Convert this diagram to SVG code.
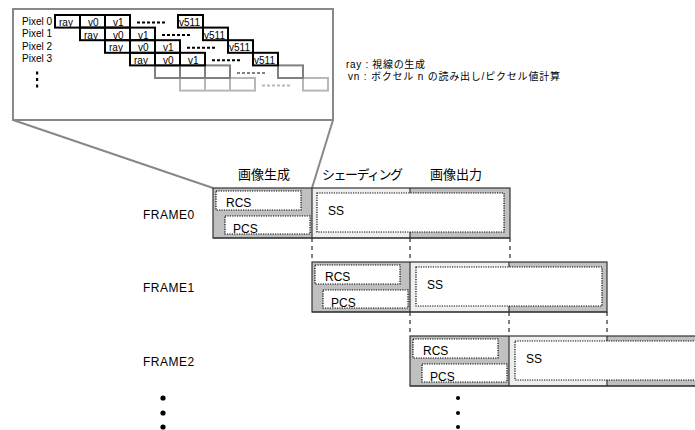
<svg xmlns="http://www.w3.org/2000/svg" width="695" height="430" viewBox="0 0 695 430">
<style>
text{font-family:"Liberation Sans","Noto Sans CJK JP",sans-serif;fill:#000}
.lbl{font-size:12px}
.hd{font-size:13px}
.cell{font-size:10px}
.pix{font-size:10px}
.leg{font-size:10px}
.fr{font-size:12px;letter-spacing:0.5px}
.g{fill:#c0c0c0}
.l{fill:#eeeeee}
.ob{fill:none;stroke:#333;stroke-width:1.2}
.bd{stroke:#333;stroke-width:1.2}
.dot{fill:#fff;stroke:#000;stroke-width:1.2;stroke-dasharray:1.2 1.2}
.conn{stroke:#000;stroke-width:1;stroke-dasharray:4 4}
.pan{fill:#fff;stroke:#888;stroke-width:2}
.row0{fill:none;stroke:#000;stroke-width:2}
.rowg{fill:none;stroke:#808080;stroke-width:2}
.rowl{fill:none;stroke:#b8b8b8;stroke-width:2}
.dsh{stroke-width:2;stroke-dasharray:3 2}
</style>

<g id="zoom-panel">
  <line x1="13" y1="120" x2="213" y2="188" stroke="#888" stroke-width="2"/>
  <line x1="333" y1="120" x2="312" y2="188" stroke="#888" stroke-width="2"/>
  <rect class="pan" x="13" y="9" width="320" height="111"/>
  <g class="rowl">
    <rect x="180" y="78" width="75" height="12.6"/>
    <line x1="205" y1="78" x2="205" y2="90.6"/><line x1="230" y1="78" x2="230" y2="90.6"/>
    <rect x="303" y="78" width="25" height="12.6"/>
    <line class="dsh" x1="262" y1="85.5" x2="290" y2="85.5"/>
  </g>
  <g class="rowg">
    <rect x="155" y="65.4" width="75" height="12.6"/>
    <line x1="180" y1="65.4" x2="180" y2="78"/><line x1="205" y1="65.4" x2="205" y2="78"/>
    <rect x="278" y="65.4" width="25" height="12.6"/>
    <line class="dsh" x1="237" y1="72.9" x2="265" y2="72.9"/>
  </g>
  <g class="row0">
    <rect x="55" y="15" width="75" height="12.6"/>
    <line x1="80" y1="15" x2="80" y2="27.6"/><line x1="105" y1="15" x2="105" y2="27.6"/>
    <rect x="178" y="15" width="25" height="12.6"/>
    <line class="dsh" x1="137" y1="22.5" x2="165" y2="22.5"/>

    <rect x="80" y="27.6" width="75" height="12.6"/>
    <line x1="105" y1="27.6" x2="105" y2="40.2"/><line x1="130" y1="27.6" x2="130" y2="40.2"/>
    <rect x="203" y="27.6" width="25" height="12.6"/>
    <line class="dsh" x1="162" y1="35.1" x2="190" y2="35.1"/>

    <rect x="105" y="40.2" width="75" height="12.6"/>
    <line x1="130" y1="40.2" x2="130" y2="52.8"/><line x1="155" y1="40.2" x2="155" y2="52.8"/>
    <rect x="228" y="40.2" width="25" height="12.6"/>
    <line class="dsh" x1="187" y1="47.7" x2="215" y2="47.7"/>

    <rect x="130" y="52.8" width="75" height="12.6"/>
    <line x1="155" y1="52.8" x2="155" y2="65.4"/><line x1="180" y1="52.8" x2="180" y2="65.4"/>
    <rect x="253" y="52.8" width="25" height="12.6"/>
    <line class="dsh" x1="212" y1="60.3" x2="240" y2="60.3"/>
  </g>
  <g class="cell">
    <text x="59" y="26">ray</text><text x="88" y="26">v0</text><text x="113" y="26">v1</text><text x="179" y="26">v511</text>
    <text x="84" y="38.6">ray</text><text x="113" y="38.6">v0</text><text x="138" y="38.6">v1</text><text x="204" y="38.6">v511</text>
    <text x="109" y="51.2">ray</text><text x="138" y="51.2">v0</text><text x="163" y="51.2">v1</text><text x="229" y="51.2">v511</text>
    <text x="134" y="63.8">ray</text><text x="163" y="63.8">v0</text><text x="188" y="63.8">v1</text><text x="254" y="63.8">v511</text>
  </g>
  <g class="pix">
    <text x="22" y="24.5">Pixel 0</text>
    <text x="22" y="37">Pixel 1</text>
    <text x="22" y="49.5">Pixel 2</text>
    <text x="22" y="62">Pixel 3</text>
  </g>
  <rect x="36" y="71.5" width="2.2" height="3" fill="#000"/>
  <rect x="36" y="78" width="2.2" height="3" fill="#000"/>
  <rect x="36" y="84.5" width="2.2" height="3" fill="#000"/>
</g>

<g id="legend" class="leg">
  <text x="346" y="67.5" textLength="79">ray : 視線の生成</text>
  <text x="348" y="79.5" textLength="212">vn : ボクセル n の読み出し/ピクセル値計算</text>
</g>

<g id="headers" class="hd">
  <text x="238" y="179">画像生成</text>
  <text x="322" y="179" textLength="81">シェーディング</text>
  <text x="430" y="179">画像出力</text>
</g>

<g id="frame-labels" class="fr">
  <text x="143" y="219">FRAME0</text>
  <text x="143" y="292">FRAME1</text>
  <text x="143" y="366">FRAME2</text>
</g>

<g id="connectors">
  <line class="conn" x1="312" y1="238" x2="312" y2="262"/>
  <line class="conn" x1="410" y1="238" x2="410" y2="262"/>
  <line class="conn" x1="510" y1="238" x2="510" y2="262"/>
  <line class="conn" x1="410" y1="312" x2="410" y2="336"/>
  <line class="conn" x1="509" y1="312" x2="509" y2="336"/>
  <line class="conn" x1="607" y1="312" x2="607" y2="336"/>
</g>

<g id="frame0">
  <rect class="g" x="213" y="188" width="99" height="50"/>
  <rect class="l" x="312" y="188" width="98" height="50"/>
  <rect class="g" x="410" y="188" width="100" height="50"/>
  <line class="bd" x1="312" y1="188" x2="312" y2="238"/>
  <line class="bd" x1="410" y1="188" x2="410" y2="238"/>
  <rect class="ob" x="213" y="188" width="297" height="50"/>
  <line class="bd" x1="213" y1="238" x2="510" y2="238" stroke-width="1.8"/>
  <rect class="dot" x="216" y="191" width="85" height="19"/>
  <rect class="dot" x="225" y="216" width="85" height="18"/>
  <rect class="dot" x="317" y="193" width="187" height="39"/>
  <text class="lbl" x="226" y="206.5">RCS</text>
  <text class="lbl" x="233" y="232.5">PCS</text>
  <text class="lbl" x="328" y="214.5">SS</text>
</g>

<g id="frame1">
  <rect class="g" x="312" y="262" width="98" height="50"/>
  <rect class="l" x="410" y="262" width="99" height="50"/>
  <rect class="g" x="509" y="262" width="98" height="50"/>
  <line class="bd" x1="410" y1="262" x2="410" y2="312"/>
  <line class="bd" x1="509" y1="262" x2="509" y2="312"/>
  <rect class="ob" x="312" y="262" width="295" height="50"/>
  <line class="bd" x1="312" y1="312" x2="607" y2="312" stroke-width="1.8"/>
  <rect class="dot" x="315" y="265" width="85" height="19"/>
  <rect class="dot" x="323" y="290" width="85" height="18"/>
  <rect class="dot" x="416" y="267" width="186" height="39"/>
  <text class="lbl" x="325" y="280.5">RCS</text>
  <text class="lbl" x="331" y="306.5">PCS</text>
  <text class="lbl" x="427" y="288.5">SS</text>
</g>

<g id="frame2">
  <rect class="g" x="410" y="336" width="99" height="50"/>
  <rect class="l" x="509" y="336" width="98" height="50"/>
  <rect class="g" x="607" y="336" width="100" height="50"/>
  <line class="bd" x1="509" y1="336" x2="509" y2="386"/>
  <line class="bd" x1="607" y1="336" x2="607" y2="386"/>
  <rect class="ob" x="410" y="336" width="297" height="50"/>
  <line class="bd" x1="410" y1="386" x2="707" y2="386" stroke-width="1.8"/>
  <rect class="dot" x="413" y="339" width="85" height="19"/>
  <rect class="dot" x="422" y="364" width="85" height="18"/>
  <rect class="dot" x="515" y="341" width="190" height="39"/>
  <text class="lbl" x="423" y="354.5">RCS</text>
  <text class="lbl" x="430" y="380.5">PCS</text>
  <text class="lbl" x="526" y="362.5">SS</text>
</g>

<g id="ellipsis">
  <circle cx="163" cy="398" r="2.6"/>
  <circle cx="163" cy="413" r="2.6"/>
  <circle cx="163" cy="427" r="2.6"/>
  <circle cx="458" cy="398" r="2"/>
  <circle cx="458" cy="413" r="2"/>
  <circle cx="458" cy="427" r="2"/>
</g>
</svg>
